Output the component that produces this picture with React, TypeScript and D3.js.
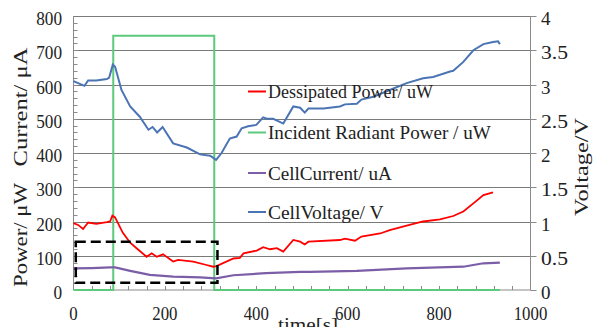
import React from "react";
import * as d3 from "d3";

// ---- data ----
const voltageTime = [0, 10, 24, 32, 50, 73, 78, 86, 91, 105, 124, 145, 164, 173, 183, 195, 218, 248, 277, 299, 312, 324, 342, 357, 368, 382, 400, 415, 423, 437, 459, 481, 496, 506, 514, 547, 583, 594, 620, 630, 656, 692, 729, 765, 787, 824, 831, 853, 875, 897, 918, 929, 933];
const voltageValues = [3.05, 3.02, 2.98, 3.06, 3.06, 3.08, 3.10, 3.29, 3.26, 2.92, 2.68, 2.53, 2.34, 2.38, 2.30, 2.38, 2.14, 2.08, 1.98, 1.96, 1.90, 2.00, 2.21, 2.24, 2.36, 2.39, 2.41, 2.52, 2.50, 2.50, 2.43, 2.68, 2.66, 2.59, 2.65, 2.65, 2.68, 2.71, 2.72, 2.78, 2.82, 2.92, 3.02, 3.09, 3.11, 3.19, 3.20, 3.33, 3.50, 3.59, 3.62, 3.63, 3.59];

const powerTime = [0, 10, 21, 32, 50, 73, 80, 85, 91, 108, 124, 138, 160, 171, 182, 196, 218, 229, 262, 291, 306, 313, 350, 364, 372, 401, 415, 430, 445, 459, 481, 496, 506, 514, 583, 594, 616, 630, 671, 692, 729, 765, 802, 831, 853, 875, 897, 918];
const powerValues = [195, 190, 178, 197, 193, 198, 200, 217, 212, 167, 138, 122, 97, 107, 97, 104, 83, 88, 83, 73, 68, 70, 92, 94, 107, 115, 125, 119, 122, 112, 146, 141, 133, 141, 146, 150, 144, 156, 165, 175, 188, 200, 206, 216, 229, 253, 277, 285];

const currentTime = [0, 40, 80, 91, 124, 167, 218, 277, 312, 350, 421, 496, 517, 620, 729, 853, 897, 933];
const currentValues = [63, 64, 66, 66, 56, 44, 39, 37, 34, 43, 49, 53, 53, 56, 63, 68, 78, 80];

const incidentTime = [0, 87, 87, 308, 308, 933];
const incidentValues = [0, 0, 742, 742, 0, 0];

const boxTime = [5, 315];
const boxValues = [21, 141];

const leftTicks = [0, 100, 200, 300, 400, 500, 600, 700, 800];
const rightTicks = [0, 0.5, 1, 1.5, 2, 2.5, 3, 3.5, 4];
const rightTickLabels = ["0", "0.5", "1", "1.5", "2", "2.5", "3", "3.5", "4"];
const xTicks = [0, 200, 400, 600, 800, 1000];

const legendLabels = ["Dessipated Power/ uW", "Incident Radiant Power / uW", "CellCurrent/ uA", "CellVoltage/ V"];
const legendColors = ["#ff0000", "#5cc97c", "#7b5ea7", "#4a74b4"];

export default function App() {
  const x = d3.scaleLinear().domain([0, 1000]).range([73.5, 530.5]);
  const yL = d3.scaleLinear().domain([0, 800]).range([290, 16]);
  const yR = d3.scaleLinear().domain([0, 4]).range([290, 16]);

  const lineL = (ts: number[], vs: number[]) =>
    d3.line<number>().x((_, i) => x(ts[i])).y((v) => yL(v))(vs) || "";
  const lineR = (ts: number[], vs: number[]) =>
    d3.line<number>().x((_, i) => x(ts[i])).y((v) => yR(v))(vs) || "";

  const font = "'Liberation Serif', 'DejaVu Serif', serif";
  const minorY = d3.range(20, 800, 20);
  const minorX = d3.range(40, 1000, 40);
  const legendY = [91.5, 132.5, 173, 212];

  return (
    <svg width={594} height={327} style={{ position: "absolute", left: 0, top: 0, background: "#fff" }} fontFamily={font}>
      {/* grid */}
      {leftTicks.slice(1).map((t) => (
        <line key={"g" + t} x1={x(0)} x2={x(1000)} y1={Math.round(yL(t)) + 0.5} y2={Math.round(yL(t)) + 0.5} stroke="#7a7a7a" strokeWidth={1} />
      ))}
      {/* axes */}
      <line x1={x(0)} x2={x(0)} y1={yL(800)} y2={yL(0)} stroke="#8a8a8a" />
      <line x1={x(1000)} x2={x(1000)} y1={yL(800)} y2={yL(0)} stroke="#8a8a8a" />
      <line x1={x(0)} x2={x(1000)} y1={yL(0)} y2={yL(0)} stroke="#8a8a8a" />
      {minorY.map((t) => (
        <line key={"my" + t} x1={x(0)} x2={x(0) + 4} y1={Math.round(yL(t)) + 0.5} y2={Math.round(yL(t)) + 0.5} stroke="#8a8a8a" />
      ))}
      {minorX.map((t) => (
        <line key={"mx" + t} x1={Math.round(x(t)) + 0.5} x2={Math.round(x(t)) + 0.5} y1={yL(0)} y2={yL(0) - 4} stroke="#8a8a8a" />
      ))}
      {rightTicks.map((t) => (
        <line key={"rt" + t} x1={x(1000)} x2={x(1000) + 6} y1={Math.round(yR(t)) + 0.5} y2={Math.round(yR(t)) + 0.5} stroke="#8a8a8a" />
      ))}

      {/* tick labels */}
      {leftTicks.map((t) => (
        <text key={"lt" + t} x={62} y={yL(t) + 9} textAnchor="end" fontSize={19} textLength={String(t).length * 8.6} lengthAdjust="spacingAndGlyphs" fill="#222">{t}</text>
      ))}
      {rightTicks.map((t, i) => (
        <text key={"rl" + t} x={541} y={yR(t) + 9} fontSize={19} textLength={rightTickLabels[i].length === 1 ? 9.5 : 27} lengthAdjust="spacingAndGlyphs" fill="#222">{rightTickLabels[i]}</text>
      ))}
      {xTicks.map((t) => (
        <text key={"xt" + t} x={x(t)} y={319.5} textAnchor="middle" fontSize={19} textLength={String(t).length * 8.4} lengthAdjust="spacingAndGlyphs" fill="#222">{t}</text>
      ))}

      {/* axis titles */}
      <text transform="translate(27,107) rotate(-90)" textAnchor="middle" fontSize={19} textLength={119} lengthAdjust="spacingAndGlyphs" fill="#222">Current/ μA</text>
      <text transform="translate(27,235) rotate(-90)" textAnchor="middle" fontSize={19} textLength={104} lengthAdjust="spacingAndGlyphs" fill="#222">Power/ μW</text>
      <text transform="translate(588,167) rotate(-90)" textAnchor="middle" fontSize={19} textLength={98} lengthAdjust="spacingAndGlyphs" fill="#222">Voltage/V</text>
      <text x={278} y={331} fontSize={19} textLength={60} lengthAdjust="spacingAndGlyphs" fill="#222">time[s]</text>

      {/* series */}
      <path d={lineL(incidentTime, incidentValues)} fill="none" stroke={legendColors[1]} strokeWidth={2} />
      <path d={lineL(currentTime, currentValues)} fill="none" stroke={legendColors[2]} strokeWidth={2.2} />
      <path d={lineL(powerTime, powerValues)} fill="none" stroke={legendColors[0]} strokeWidth={1.8} />
      <path d={lineR(voltageTime, voltageValues)} fill="none" stroke={legendColors[3]} strokeWidth={2} />

      {/* dashed box */}
      <rect x={x(boxTime[0])} y={yL(boxValues[1])} width={x(boxTime[1]) - x(boxTime[0])} height={yL(boxValues[0]) - yL(boxValues[1])} fill="none" stroke="#000" strokeWidth={2.5} strokeDasharray="10,5" />

      {/* legend */}
      {legendLabels.map((l, i) => (
        <g key={l}>
          <line x1={248} x2={266} y1={legendY[i]} y2={legendY[i]} stroke={legendColors[i]} strokeWidth={2} />
          <text x={268} y={legendY[i] + 6.5} fontSize={19} textLength={l.length * 8.25} lengthAdjust="spacingAndGlyphs" fill="#222">{l}</text>
        </g>
      ))}
    </svg>
  );
}
